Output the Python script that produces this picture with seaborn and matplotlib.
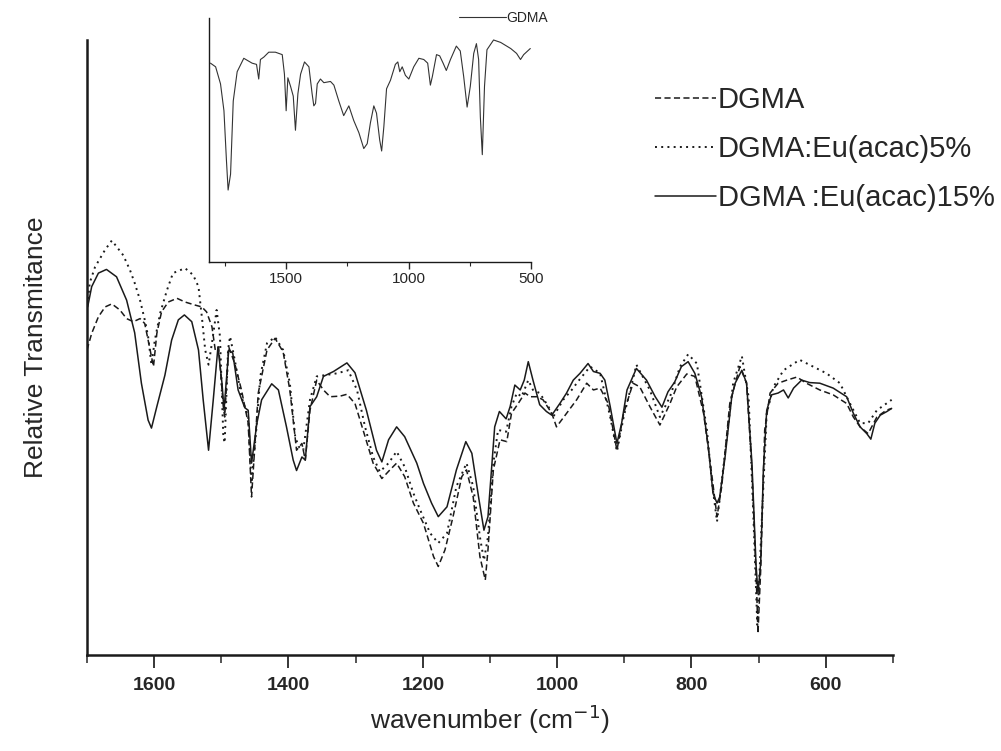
import matplotlib
matplotlib.use('Agg')
import matplotlib.pyplot as plt
import seaborn as sns
from matplotlib.ticker import MultipleLocator, FixedLocator

# --- data (wavenumber in cm-1, relative transmittance in arbitrary units) ---
wn_dgma = [1700, 1693, 1683, 1673, 1663, 1651, 1641, 1631, 1621, 1614, 1606, 1601, 1596, 1589, 1579,
           1566, 1554, 1539, 1529, 1522, 1514, 1509, 1504, 1497, 1495, 1489, 1480, 1470, 1460, 1455,
           1445, 1432, 1420, 1408, 1398, 1388, 1380, 1375, 1368, 1358, 1348, 1338, 1323, 1313, 1301,
           1289, 1274, 1261, 1249, 1239, 1227, 1214, 1199, 1184, 1177, 1167, 1155, 1142, 1135, 1125,
           1115, 1107, 1103, 1095, 1085, 1075, 1068, 1058, 1048, 1040, 1030, 1021, 1008, 1001, 986,
           971, 956, 946, 936, 924, 911, 901, 887, 877, 862, 847, 832, 822, 807, 795,
           782, 770, 762, 755, 743, 728, 718, 710, 703, 701, 697, 691, 683, 671, 658,
           643, 629, 609, 589, 569, 559, 549, 537, 524, 510, 502]
t_dgma = [49.6, 52.3, 55.0, 56.6, 57.1, 56.1, 54.7, 54.2, 54.7, 53.9, 49.6, 46.9, 52.3, 55.8, 57.4,
          58.0, 57.4, 56.9, 56.6, 55.8, 53.4, 49.6, 50.1, 40.4, 38.7, 50.1, 47.4, 43.1, 37.7, 25.7,
          42.6, 49.6, 51.5, 49.3, 43.1, 33.3, 34.4, 31.7, 39.8, 44.7, 43.1, 42.0, 42.1, 42.4, 40.9,
          36.6, 31.2, 28.7, 30.1, 31.2, 29.0, 24.7, 21.4, 16.0, 14.4, 17.1, 22.5, 29.0, 30.1, 25.7,
          16.0, 12.2, 17.1, 30.1, 35.0, 34.7, 39.3, 40.9, 42.6, 42.0, 42.0, 41.5, 39.3, 37.1, 39.3,
          41.5, 44.2, 43.1, 43.4, 40.9, 33.3, 39.3, 44.2, 43.6, 40.4, 37.4, 40.9, 43.6, 45.7, 45.3,
          39.3, 29.5, 22.5, 27.4, 40.9, 46.9, 44.2, 30.1, 10.6, 3.5, 13.8, 36.6, 42.6, 44.2, 44.7,
          45.2, 44.2, 43.1, 42.3, 40.9, 38.7, 37.1, 36.0, 38.7, 39.8, 40.1]

wn_eu5 = [1699, 1696, 1688, 1673, 1663, 1646, 1636, 1629, 1621, 1614, 1609, 1604, 1599, 1591, 1581,
          1572, 1554, 1542, 1534, 1529, 1524, 1519, 1514, 1507, 1502, 1497, 1495, 1490, 1487, 1480,
          1470, 1460, 1455, 1448, 1442, 1432, 1420, 1408, 1398, 1390, 1385, 1378, 1368, 1358, 1346,
          1328, 1311, 1298, 1286, 1274, 1264, 1251, 1239, 1227, 1214, 1204, 1189, 1177, 1164, 1150,
          1135, 1125, 1115, 1109, 1103, 1095, 1088, 1076, 1068, 1060, 1053, 1043, 1036, 1026, 1013,
          1006, 991, 976, 971, 951, 936, 921, 911, 901, 882, 862, 847, 832, 817, 805,
          792, 777, 770, 762, 753, 738, 725, 715, 708, 702, 696, 688, 678, 663, 639,
          619, 599, 579, 564, 549, 537, 524, 502]
t_eu5 = [56.9, 60.5, 63.1, 65.9, 67.4, 65.0, 62.6, 60.5, 57.7, 54.5, 51.8, 47.2, 51.2, 55.6, 59.3,
         62.1, 62.9, 61.8, 59.9, 55.0, 49.6, 47.2, 50.7, 56.1, 51.8, 35.5, 34.5, 49.6, 51.8, 48.0,
         42.0, 38.7, 28.0, 36.6, 45.3, 50.7, 51.7, 49.6, 44.2, 35.5, 33.9, 33.3, 41.5, 45.3, 45.5,
         45.8, 46.3, 43.1, 37.1, 32.2, 29.8, 31.2, 33.1, 30.6, 26.3, 23.6, 19.8, 18.2, 19.8, 27.4,
         31.2, 27.4, 19.2, 15.4, 19.2, 31.2, 36.6, 36.3, 40.4, 42.6, 42.0, 44.7, 43.1, 42.6, 40.4,
         38.7, 41.5, 43.4, 44.2, 46.9, 45.8, 38.7, 33.1, 38.7, 47.2, 43.1, 38.7, 42.0, 46.9, 48.9,
         47.4, 36.6, 28.5, 21.7, 30.1, 44.2, 48.6, 42.0, 23.0, 4.9, 20.3, 39.3, 43.6, 46.3, 48.0,
         46.9, 45.8, 44.2, 40.9, 37.7, 37.7, 39.8, 41.5]

wn_eu15 = [1699, 1693, 1683, 1671, 1656, 1641, 1629, 1619, 1609, 1604, 1596, 1584, 1574, 1564, 1555,
           1544, 1534, 1527, 1519, 1512, 1505, 1499, 1496, 1489, 1483, 1475, 1465, 1460, 1455, 1447,
           1440, 1425, 1415, 1403, 1393, 1388, 1380, 1375, 1368, 1358, 1348, 1333, 1313, 1301, 1284,
           1269, 1261, 1251, 1239, 1227, 1209, 1199, 1187, 1177, 1164, 1150, 1136, 1127, 1117, 1109,
           1103, 1097, 1093, 1086, 1076, 1070, 1063, 1055, 1049, 1043, 1036, 1026, 1016, 1008, 996,
           986, 976, 966, 954, 946, 936, 929, 921, 911, 904, 896, 882, 867, 854, 844,
           835, 825, 815, 805, 795, 785, 775, 768, 762, 758, 750, 740, 735, 725, 718,
           710, 704, 701, 697, 693, 688, 681, 671, 663, 656, 648, 636, 624, 609, 589,
           569, 559, 549, 539, 533, 527, 519, 509, 502]
t_eu15 = [56.6, 59.9, 62.1, 62.7, 61.5, 57.7, 52.4, 44.2, 38.2, 36.9, 40.4, 45.5, 51.2, 54.5, 55.3,
          54.2, 49.6, 41.5, 33.3, 41.5, 50.1, 44.2, 39.8, 49.6, 49.1, 43.1, 40.2, 39.8, 31.2, 37.7,
          41.5, 44.1, 43.1, 37.1, 31.7, 30.0, 32.2, 31.7, 40.4, 42.0, 45.3, 46.1, 47.5, 45.9, 39.8,
          33.3, 31.4, 35.0, 37.1, 35.5, 31.2, 27.9, 24.7, 22.5, 24.1, 30.1, 34.7, 32.8, 25.7, 20.3,
          22.5, 31.2, 37.1, 39.6, 38.4, 40.4, 43.9, 43.1, 44.7, 47.7, 44.7, 40.7, 39.6, 39.0, 40.9,
          42.6, 44.7, 45.8, 47.4, 46.1, 45.8, 44.7, 40.4, 34.4, 37.7, 43.1, 46.6, 44.7, 42.0, 40.3,
          42.8, 44.4, 46.9, 47.7, 45.8, 42.0, 33.9, 26.3, 24.7, 25.7, 32.2, 42.0, 44.2, 46.3, 44.2,
          31.2, 14.9, 10.0, 14.9, 30.1, 39.8, 42.3, 42.6, 43.1, 41.8, 43.4, 44.7, 44.3, 44.2, 43.4,
          42.0, 39.3, 37.1, 36.0, 35.1, 37.7, 39.0, 39.6, 40.1]

# inset: pure GDMA spectrum
wn_gdma = [1809, 1788, 1768, 1754, 1744, 1737, 1727, 1716, 1700, 1673, 1639, 1621, 1612, 1605, 1591,
           1571, 1544, 1516, 1507, 1500, 1493, 1482, 1471, 1462, 1452, 1441, 1425, 1407, 1394, 1387,
           1380, 1373, 1360, 1346, 1319, 1305, 1285, 1265, 1244, 1224, 1203, 1183, 1169, 1156, 1142,
           1131, 1118, 1110, 1101, 1090, 1074, 1054, 1044, 1036, 1026, 1013, 999, 979, 958, 938,
           922, 911, 903, 886, 873, 859, 846, 829, 805, 789, 775, 761, 748, 734, 723,
           714, 707, 699, 690, 680, 653, 624, 583, 559, 543, 530, 503]
t_gdma = [81.5, 80.0, 73.0, 62.0, 42.0, 29.5, 36.0, 66.0, 78.0, 83.5, 81.5, 81.0, 75.0, 83.0, 84.0,
          86.0, 86.0, 85.0, 77.0, 62.0, 75.5, 72.0, 68.0, 54.0, 69.0, 77.0, 82.0, 80.0, 69.0, 64.0,
          65.0, 73.0, 75.0, 73.5, 74.0, 72.5, 66.0, 60.0, 64.0, 58.0, 53.0, 46.5, 48.5, 57.0, 64.0,
          61.0, 50.0, 45.5, 55.5, 71.0, 74.5, 81.0, 82.0, 78.0, 80.0, 76.5, 75.0, 80.0, 83.5, 83.0,
          81.5, 72.5, 76.0, 85.0, 84.5, 81.5, 78.5, 83.0, 88.5, 86.5, 76.0, 63.5, 72.0, 85.5, 89.5,
          83.0, 59.5, 44.0, 72.0, 87.0, 91.0, 90.0, 87.5, 85.5, 83.0, 85.0, 87.5]

main_ticks = [1600, 1400, 1200, 1000, 800, 600]
inset_ticks = [1500, 1000, 500]

sns.set_style('ticks')
plt.rcParams['font.family'] = ['Liberation Sans', 'DejaVu Sans']
ink = '#1a1a1a'

fig = plt.figure(figsize=(10.01, 7.51), dpi=100)

# main plot
ax = fig.add_axes([0.0869, 0.1278, 0.8052, 0.8189])
sns.lineplot(x=wn_dgma, y=t_dgma, ax=ax, color=ink, lw=1.1, linestyle=(0, (4, 2.2)),
             label='DGMA', sort=False, estimator=None)
sns.lineplot(x=wn_eu5, y=t_eu5, ax=ax, color=ink, lw=1.4, linestyle=(0, (1, 2.2)),
             label='DGMA:Eu(acac)5%', sort=False, estimator=None)
sns.lineplot(x=wn_eu15, y=t_eu15, ax=ax, color=ink, lw=1.1, linestyle='-',
             label='DGMA :Eu(acac)15%', sort=False, estimator=None)
for ln in ax.get_lines():
    ln.set_solid_joinstyle('round')
    ln.set_dash_joinstyle('round')

ax.set_xlim(1700, 500)
ax.set_ylim(0, 100)
ax.set_yticks([])
ax.xaxis.set_major_locator(FixedLocator(main_ticks))
ax.xaxis.set_minor_locator(MultipleLocator(100))
ax.tick_params(axis='x', which='major', length=9, width=1.3, direction='out', labelsize=14, pad=7)
ax.tick_params(axis='x', which='minor', length=6, width=1.1, direction='out')
for lab in ax.get_xticklabels():
    lab.set_fontweight('bold')
for side in ['top', 'right']:
    ax.spines[side].set_visible(False)
for side in ['left', 'bottom']:
    ax.spines[side].set_linewidth(1.8)
    ax.spines[side].set_color(ink)
ax.set_xlabel('wavenumber (cm$^{-1}$)', fontsize=19, labelpad=6)
ax.set_ylabel('Relative Transmitance', fontsize=19, labelpad=28)

ax.legend(loc='upper left', bbox_to_anchor=(655 / 1001, 1 - 86 / 751),
          bbox_transform=fig.transFigure, frameon=False, fontsize=21,
          handlelength=2.1, handletextpad=0.05, labelspacing=0.72, borderpad=0,
          borderaxespad=0)

# inset
ax_in = fig.add_axes([0.2088, 0.6511, 0.3217, 0.3249])
sns.lineplot(x=wn_gdma, y=t_gdma, ax=ax_in, color='#333333', lw=0.8,
             label='GDMA', sort=False, estimator=None)
ax_in.set_xlim(1815, 500)
ax_in.set_ylim(0, 100)
ax_in.set_yticks([])
ax_in.xaxis.set_major_locator(FixedLocator(inset_ticks))
ax_in.xaxis.set_minor_locator(FixedLocator([1750, 1250, 750]))
ax_in.tick_params(axis='x', which='major', length=5, width=1, direction='out', labelsize=11, pad=2)
ax_in.tick_params(axis='x', which='minor', length=3, width=0.8, direction='out')
ax_in.set_xlabel('')
for side in ['top', 'right']:
    ax_in.spines[side].set_visible(False)
for side in ['left', 'bottom']:
    ax_in.spines[side].set_linewidth(1.0)
    ax_in.spines[side].set_color(ink)
ax_in.legend(loc='center right', bbox_to_anchor=(1.053, 1.0), frameon=False, fontsize=10,
             handlelength=3.4, handletextpad=0.0, borderpad=0, borderaxespad=0)

fig.savefig('out.png', dpi=100)
